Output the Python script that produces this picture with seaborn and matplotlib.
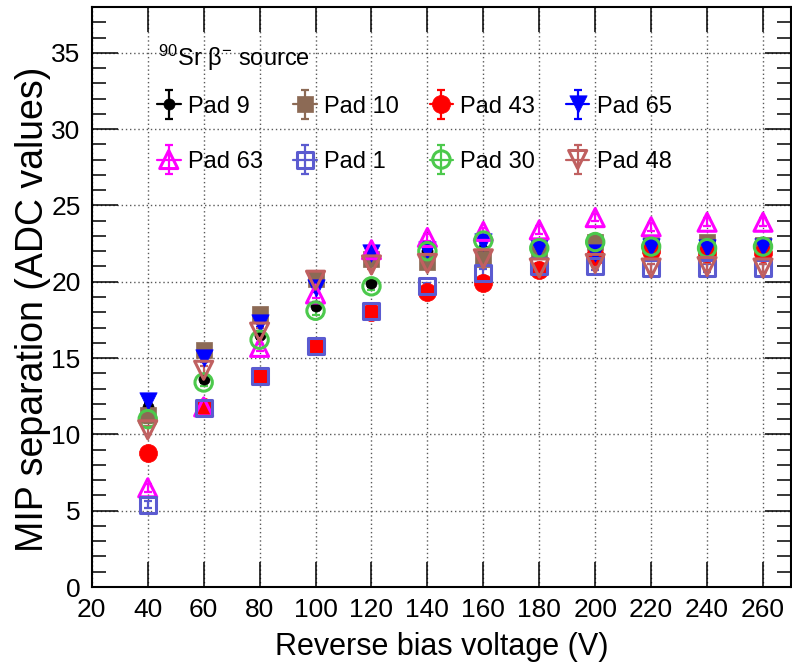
import matplotlib
matplotlib.use("Agg")
import matplotlib.pyplot as plt
import seaborn as sns
from matplotlib.lines import Line2D
from matplotlib.container import ErrorbarContainer
from matplotlib.legend_handler import HandlerTuple, HandlerErrorbar
from matplotlib.ticker import MultipleLocator

# Reverse bias scan (V)
voltage = [40, 60, 80, 100, 120, 140, 160, 180, 200, 220, 240, 260]

# MIP separation in ADC values for each pad
pad9 = [11.8, 13.6, 16.5, 18.4, 19.9, 22.0, 22.1, 22.2, 22.0, 22.2, 22.3, 22.2]
pad10 = [11.3, 15.5, 17.9, 20.2, 21.5, 21.3, 21.5, 22.0, 22.6, 22.4, 22.6, 22.4]
pad43 = [8.8, 11.8, 13.8, 15.8, 18.0, 19.3, 19.9, 20.8, 21.7, 22.0, 21.9, 21.9]
pad65 = [12.2, 15.0, 17.3, 19.6, 21.9, 22.1, 22.6, 22.2, 21.9, 22.3, 22.2, 22.3]
pad63 = [6.5, 11.8, 15.7, 19.2, 22.1, 22.9, 23.3, 23.4, 24.2, 23.6, 23.9, 23.9]
pad1 = [5.4, 11.7, 13.8, 15.8, 18.1, 19.7, 20.6, 21.0, 21.0, 20.9, 20.9, 20.9]
pad30 = [11.0, 13.4, 16.2, 18.1, 19.7, 22.0, 22.7, 22.2, 22.6, 22.3, 22.2, 22.3]
pad48 = [10.3, 14.2, 16.7, 20.1, 21.1, 21.2, 21.5, 20.9, 21.2, 20.9, 21.0, 20.9]

# Statistical uncertainty on each point
err = [0.25, 0.25, 0.25, 0.25, 0.25, 0.25, 0.25, 0.25, 0.25, 0.25, 0.25, 0.25]

labels = ["Pad 9", "Pad 10", "Pad 43", "Pad 65", "Pad 63", "Pad 1", "Pad 30", "Pad 48"]
values = [pad9, pad10, pad43, pad65, pad63, pad1, pad30, pad48]

# marker, colour, size (pt), filled
styles = [
    ("o", "#000000", 8.0, True),
    ("s", "#8c6a55", 12.0, True),
    ("o", "#ff0000", 13.0, True),
    ("v", "#0000ff", 12.5, True),
    ("^", "#ff00ff", 13.0, False),
    ("s", "#5b5bd0", 11.5, False),
    ("o", "#4cc94c", 12.5, False),
    ("v", "#c06060", 13.0, False),
]

sns.set_theme(style="ticks")
plt.rcParams["font.family"] = ["Liberation Sans", "DejaVu Sans"]
plt.rcParams["mathtext.default"] = "regular"
plt.rcParams["text.color"] = "black"
plt.rcParams["axes.labelcolor"] = "black"
plt.rcParams["xtick.color"] = "black"
plt.rcParams["ytick.color"] = "black"

fig = plt.figure(figsize=(7.92, 6.66), dpi=100)
ax = fig.add_axes([0.1159, 0.1186, 0.8828, 0.8709])

handles = {}
for i, (lab, vals, (mk, col, ms, filled)) in enumerate(zip(labels, values, styles)):
    eb = ax.errorbar(voltage, vals, yerr=err, fmt="none", ecolor=col,
                     elinewidth=1.6, capsize=2.9, capthick=1.6, zorder=2)
    sns.scatterplot(x=voltage, y=vals, marker=mk, s=ms ** 2, color=col,
                    facecolor=col if filled else "none", edgecolor=col,
                    linewidth=0.5 if filled else 2.2, ax=ax, zorder=4 + i,
                    legend=False)
    pts = ax.collections[-1]
    hline = Line2D([], [], color=col, lw=1.6)
    handles[lab] = (hline, eb, pts)

ax.set_xlim(20, 270)
ax.set_ylim(0, 38)
ax.xaxis.set_major_locator(MultipleLocator(20))
ax.yaxis.set_major_locator(MultipleLocator(5))
ax.yaxis.set_minor_locator(MultipleLocator(1))

ax.grid(True, which="major", linestyle=(0, (1, 2)), color="0.35", linewidth=1.0)
ax.set_axisbelow(True)

for sp in ax.spines.values():
    sp.set_linewidth(1.5)
    sp.set_color("black")
    sp.set_visible(True)

ax.tick_params(axis="both", which="both", direction="in", top=True, right=True,
               colors="black", width=1.1)
ax.tick_params(axis="y", which="major", length=19, pad=8, labelsize=19)
ax.tick_params(axis="y", which="minor", length=10)
ax.tick_params(axis="x", which="major", length=18, pad=8, labelsize=19)
ax.tick_params(axis="x", which="minor", bottom=False, top=False)

ax.set_xlabel("Reverse bias voltage (V)", fontsize=22, color="black")
ax.set_ylabel("MIP separation (ADC values)", fontsize=27, color="black")
ax.yaxis.set_label_coords(-0.058, 0.478)
ax.xaxis.set_label_coords(0.5, -0.078)

# Source header above the legend
ax.text(0.0948, 0.898, r"$^{90}$Sr β$^{-}$ source", transform=ax.transAxes,
        fontsize=17, ha="left", va="baseline", color="black", zorder=30)

# Legend fills column by column: arrange so rows read 9,10,43,65 / 63,1,30,48
order = ["Pad 9", "Pad 63", "Pad 10", "Pad 1", "Pad 43", "Pad 30", "Pad 65", "Pad 48"]
leg = ax.legend([handles[k] for k in order], order, ncol=4, loc="upper left",
                bbox_to_anchor=(0.0932, 0.847), frameon=False, fontsize=17,
                borderpad=0, borderaxespad=0, labelcolor="black",
                handlelength=1.0, handletextpad=0.3, columnspacing=1.3,
                labelspacing=1.4, scatteryoffsets=[0.5],
                handler_map={tuple: HandlerTuple(ndivide=1, pad=0),
                             ErrorbarContainer: HandlerErrorbar(yerr_size=0.62)})
leg.set_zorder(30)

fig.savefig("out.png", dpi=100)
